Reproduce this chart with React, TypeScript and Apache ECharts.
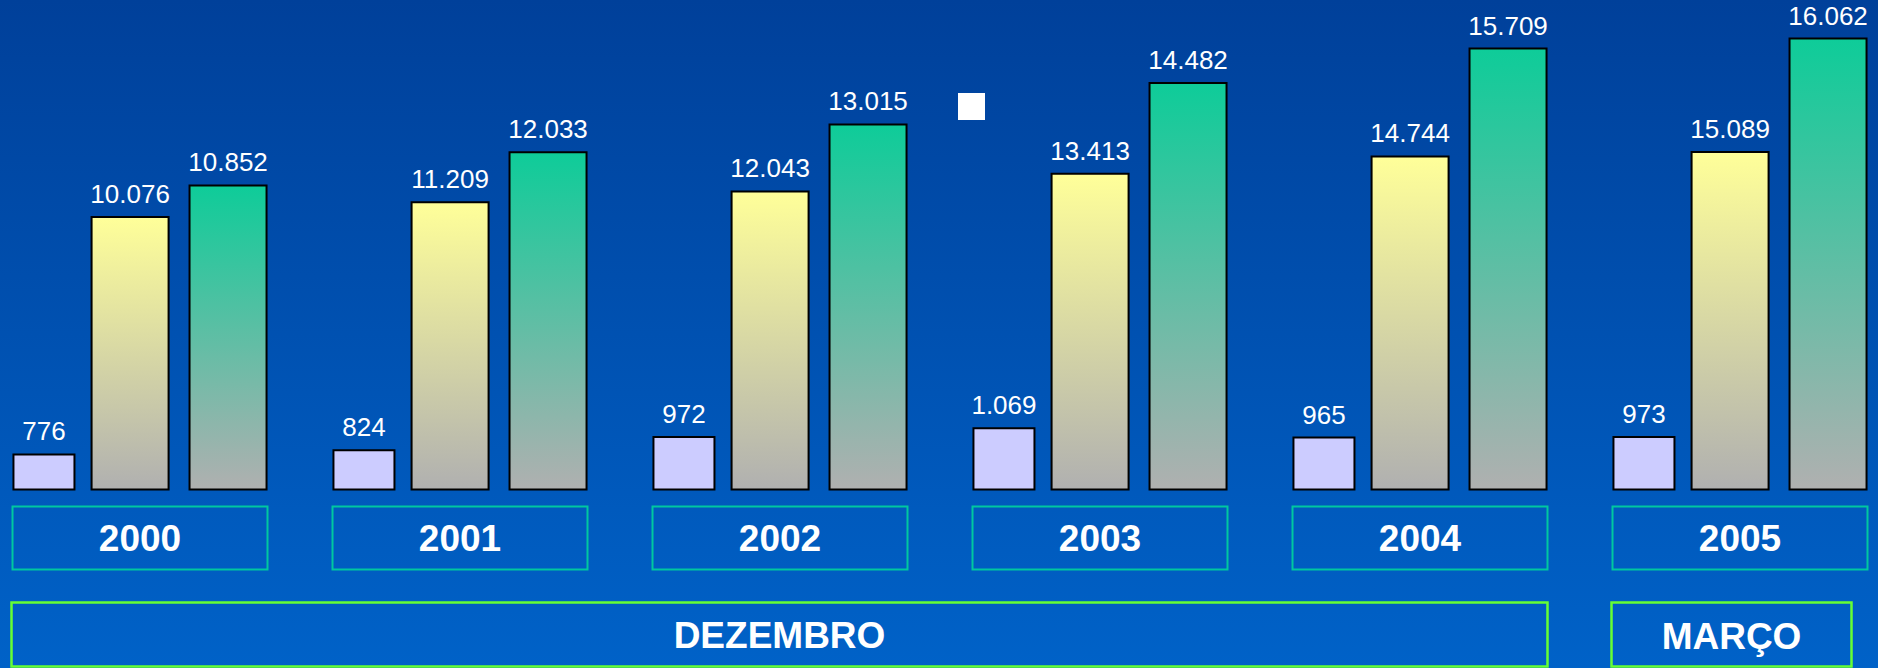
import React, { useEffect, useRef } from "react";
import * as echarts from "echarts";

const years = ["2000", "2001", "2002", "2003", "2004", "2005"];
const seriesSmall = [776, 824, 972, 1069, 965, 973];
const seriesYellow = [10076, 11209, 12043, 13413, 14744, 15089];
const seriesGreen = [10852, 12033, 13015, 14482, 15709, 16062];
const periodLabels = ["DEZEMBRO", "MARÇO"];

const FONT = '"Liberation Sans", Arial, sans-serif';
const SHIFT = 20; // inner chart canvas starts 20px left of the page

function fmt(v: number): string {
  return String(v).replace(/\B(?=(\d{3})+(?!\d))/g, ".");
}

const labelCfg = {
  show: true,
  position: "top",
  distance: 9,
  color: "#ffffff",
  fontSize: 26,
  fontFamily: FONT,
  formatter: (p: any) => fmt(p.value),
};

export default function App() {
  const ref = useRef<HTMLDivElement>(null);
  useEffect(() => {
    if (!ref.current) return;
    const chart = echarts.init(ref.current, null, { renderer: "svg" });
    const grad = (top: string, bottom: string) =>
      new echarts.graphic.LinearGradient(0, 0, 0, 1, [
        { offset: 0, color: top },
        { offset: 1, color: bottom },
      ]);
    chart.setOption({
      animation: false,
      backgroundColor: grad("#00409a", "#0062c8"),
      grid: { left: 0, right: 0, top: 30, bottom: 177.5, containLabel: false },
      xAxis: {
        type: "category",
        data: years,
        axisLine: { show: false },
        axisTick: { show: false },
        splitLine: { show: false },
        axisLabel: {
          interval: 0,
          margin: 16,
          width: 255,
          height: 63,
          lineHeight: 63,
          align: "center",
          borderColor: "#00c8a0",
          borderWidth: 2,
          color: "#ffffff",
          fontSize: 37,
          fontWeight: "bold",
          fontFamily: FONT,
        },
      },
      yAxis: [
        { type: "value", show: false, min: 362, max: 5513, startValue: 362, splitLine: { show: false } },
        { type: "value", show: false, min: -11139, max: 24435, startValue: -11139, splitLine: { show: false } },
        { type: "value", show: false, min: 0, max: 16330, splitLine: { show: false } },
      ],
      series: [
        {
          type: "bar",
          data: seriesSmall,
          yAxisIndex: 0,
          barWidth: 63,
          itemStyle: { color: "#ccccff", borderColor: "#000000", borderWidth: 2 },
          label: labelCfg,
        },
        {
          type: "bar",
          data: seriesYellow,
          yAxisIndex: 1,
          barWidth: 79,
          itemStyle: { color: grad("#ffff99", "#b0b0b0"), borderColor: "#000000", borderWidth: 2 },
          label: labelCfg,
        },
        {
          type: "bar",
          data: seriesGreen,
          yAxisIndex: 2,
          barWidth: 79,
          barGap: "24%",
          itemStyle: { color: grad("#0ecc99", "#b0b0b0"), borderColor: "#000000", borderWidth: 2 },
          label: labelCfg,
        },
      ],
      graphic: [
        {
          type: "rect",
          shape: { x: 958 + SHIFT, y: 93, width: 27, height: 27 },
          style: { fill: "#ffffff" },
        },
        {
          type: "rect",
          shape: { x: 11.5 + SHIFT, y: 602.5, width: 1536, height: 64 },
          style: { fill: "none", stroke: "#66ff33", lineWidth: 2.5 },
        },
        {
          type: "text",
          x: 779.5 + SHIFT,
          y: 635,
          style: {
            text: periodLabels[0],
            fill: "#ffffff",
            font: `bold 37px ${FONT}`,
            textAlign: "center",
            textVerticalAlign: "middle",
          },
        },
        {
          type: "rect",
          shape: { x: 1611.5 + SHIFT, y: 602.5, width: 240, height: 64 },
          style: { fill: "none", stroke: "#66ff33", lineWidth: 2.5 },
        },
        {
          type: "text",
          x: 1731.5 + SHIFT,
          y: 636,
          style: {
            text: periodLabels[1],
            fill: "#ffffff",
            font: `bold 37px ${FONT}`,
            textAlign: "center",
            textVerticalAlign: "middle",
          },
        },
      ],
    });
    return () => chart.dispose();
  }, []);
  return (
    <div
      style={{
        position: "absolute",
        left: 0,
        top: 0,
        width: 1878,
        height: 668,
        overflow: "hidden",
      }}
    >
      <div
        ref={ref}
        style={{ position: "absolute", left: -SHIFT, top: 0, width: 1920, height: 668 }}
      />
    </div>
  );
}
